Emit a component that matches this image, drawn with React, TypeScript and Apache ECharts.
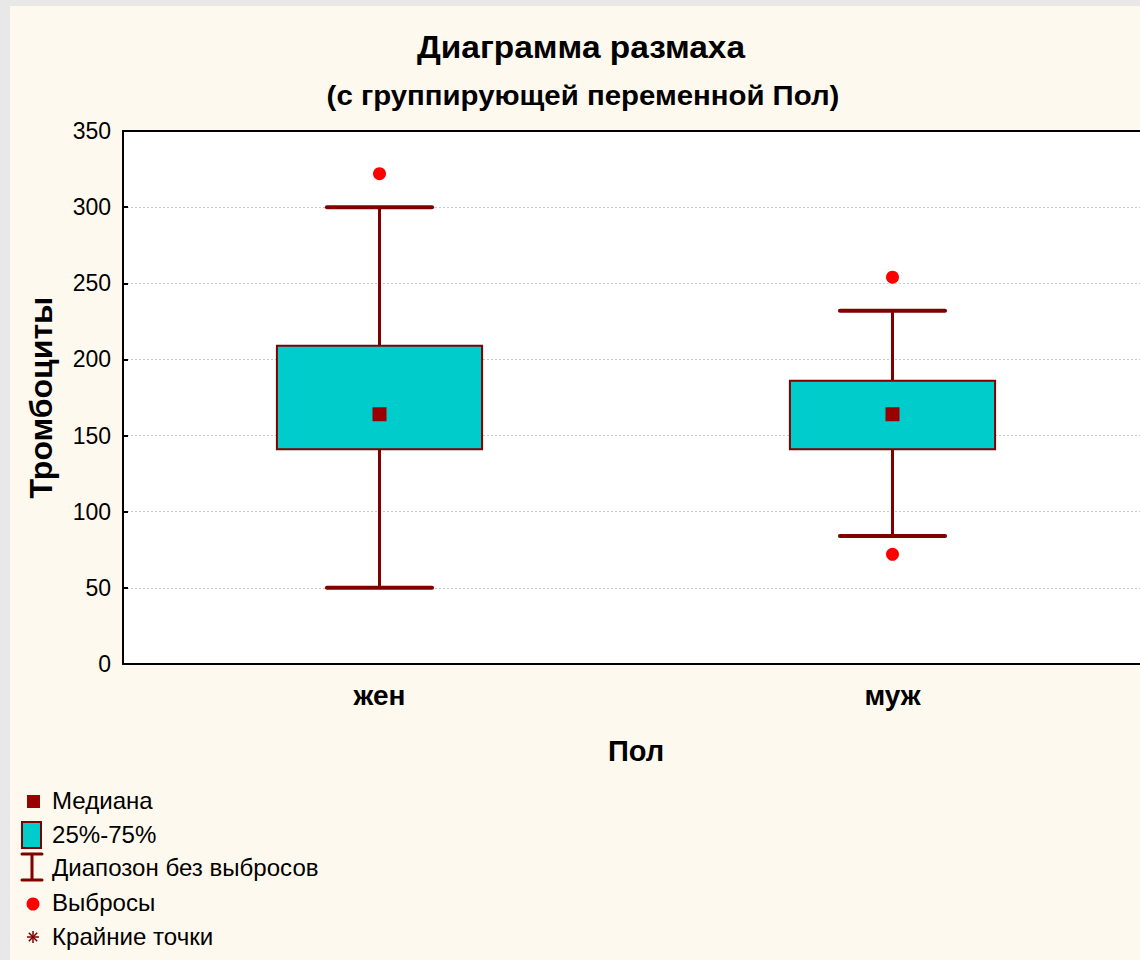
import React, { useEffect, useRef } from "react";
import * as echarts from "echarts";

// ---- data ----
const categories = ["жен", "муж"];
// [min (no outliers), Q1, median, Q3, max (no outliers)]
const boxMin = [50, 84];
const boxQ1 = [141, 141];
const boxMedian = [164, 164];
const boxQ3 = [209, 186];
const boxMax = [300, 232];
// outliers: [category index, value]
const outliers: [number, number][] = [
  [0, 322],
  [1, 254],
  [1, 72],
];
const yTicks = { min: 0, max: 350, interval: 50 };
const legendLabels = ["Медиана", "25%-75%", "Диапозон без выбросов", "Выбросы", "Крайние точки"];

const FONT = "Liberation Sans, Arial, sans-serif";
const DARK = "#800000";
const MED = "#990000";
const CYAN = "#00CCCC";
const OX = 10;
const OY = 6;

export default function App() {
  const ref = useRef<HTMLDivElement>(null);
  useEffect(() => {
    if (!ref.current) return;
    const chart = echarts.init(ref.current, undefined, { renderer: "svg" });
    const boxData = categories.map((_, i) => [i, boxMin[i], boxQ1[i], boxMedian[i], boxQ3[i], boxMax[i]]);

    const rowY = [801, 835, 868, 903, 937];
    const legendGraphics: any[] = [];
    legendGraphics.push({ type: "rect", shape: { x: 27 - OX, y: 795 - OY, width: 13, height: 13 }, style: { fill: MED } });
    legendGraphics.push({ type: "rect", shape: { x: 22 - OX, y: 822 - OY, width: 19, height: 26 }, style: { fill: CYAN, stroke: DARK, lineWidth: 2 } });
    legendGraphics.push({ type: "line", shape: { x1: 22 - OX, y1: 854 - OY, x2: 42 - OX, y2: 854 - OY }, style: { stroke: DARK, lineWidth: 3, lineCap: "round" } });
    legendGraphics.push({ type: "line", shape: { x1: 22 - OX, y1: 880 - OY, x2: 42 - OX, y2: 880 - OY }, style: { stroke: DARK, lineWidth: 3, lineCap: "round" } });
    legendGraphics.push({ type: "line", shape: { x1: 32 - OX, y1: 854 - OY, x2: 32 - OX, y2: 880 - OY }, style: { stroke: DARK, lineWidth: 3 } });
    legendGraphics.push({ type: "circle", shape: { cx: 33 - OX, cy: 904 - OY, r: 6.5 }, style: { fill: "#FF0000" } });
    const ax = 33 - OX, ay = 937 - OY, s = 6;
    [[0, -s, 0, s], [-s, 0, s, 0], [-s * 0.7, -s * 0.7, s * 0.7, s * 0.7], [-s * 0.7, s * 0.7, s * 0.7, -s * 0.7]].forEach((l) => {
      legendGraphics.push({ type: "line", shape: { x1: ax + l[0], y1: ay + l[1], x2: ax + l[2], y2: ay + l[3] }, style: { stroke: DARK, lineWidth: 1.5 } });
    });
    legendLabels.forEach((t, i) => {
      legendGraphics.push({
        type: "text",
        x: 52 - OX,
        y: rowY[i] - OY,
        scaleX: 1.047,
        style: { text: t, font: `23px ${FONT}`, fill: "#000", verticalAlign: "middle" },
      });
    });

    chart.setOption({
      animation: false,
      backgroundColor: "transparent",
      graphic: [
        {
          type: "text",
          x: 581 - OX,
          y: 47 - OY,
          scaleX: 1.045,
          style: { text: "Диаграмма размаха", font: `bold 32px ${FONT}`, fill: "#000", align: "center", verticalAlign: "middle" },
        },
        {
          type: "text",
          x: 583 - OX,
          y: 95 - OY,
          scaleX: 1.05,
          style: { text: "(с группирующей переменной Пол)", font: `bold 28px ${FONT}`, fill: "#000", align: "center", verticalAlign: "middle" },
        },
        ...legendGraphics,
      ],
      grid: {
        left: 113,
        top: 125,
        width: 1026,
        height: 533,
        show: true,
        backgroundColor: "#FFFFFF",
        borderWidth: 0,
      },
      xAxis: [
        {
          type: "category",
          data: categories,
          boundaryGap: true,
          axisLine: { lineStyle: { color: "#000", width: 2 } },
          axisTick: { inside: true, alignWithLabel: true, length: 6, lineStyle: { color: "#000", width: 2 } },
          axisLabel: { color: "#000", fontFamily: FONT, fontSize: 28, fontWeight: "bold", margin: 17 },
          name: "Пол",
          nameLocation: "middle",
          nameGap: 72,
          nameTextStyle: { color: "#000", fontFamily: FONT, fontSize: 29, fontWeight: "bold" },
          splitLine: { show: false },
        },
        {
          type: "category",
          data: categories,
          position: "top",
          axisLine: { show: true, lineStyle: { color: "#000", width: 2 } },
          axisTick: { show: false },
          axisLabel: { show: false },
          splitLine: { show: false },
        },
      ],
      yAxis: {
        type: "value",
        min: yTicks.min,
        max: yTicks.max,
        interval: yTicks.interval,
        axisLine: { show: true, lineStyle: { color: "#000", width: 2 } },
        axisTick: { show: true, inside: true, length: 5, lineStyle: { color: "#000", width: 2 } },
        axisLabel: { color: "#000", fontFamily: FONT, fontSize: 23, margin: 12 },
        splitLine: { show: true, lineStyle: { color: "#c8c8c8", width: 1, type: [2, 2] } },
        name: "Тромбоциты",
        nameLocation: "middle",
        nameGap: 66,
        nameTextStyle: { color: "#000", fontFamily: FONT, fontSize: 32, fontWeight: "bold" },
      },
      series: [
        {
          type: "custom",
          name: "box",
          data: boxData,
          encode: { x: 0, y: [1, 2, 3, 4, 5] },
          renderItem: (params: any, api: any) => {
            const c = api.value(0);
            const band = api.size([1, 0])[0];
            const pMin = api.coord([c, api.value(1)]);
            const pQ1 = api.coord([c, api.value(2)]);
            const pMed = api.coord([c, api.value(3)]);
            const pQ3 = api.coord([c, api.value(4)]);
            const pMax = api.coord([c, api.value(5)]);
            const cx = pMin[0];
            const boxW = band * 0.4;
            const capW = band * 0.205;
            const med = 14;
            return {
              type: "group",
              children: [
                { type: "line", shape: { x1: cx, y1: pMax[1], x2: cx, y2: pMin[1] }, style: { stroke: DARK, lineWidth: 3 } },
                { type: "line", shape: { x1: cx - capW / 2, y1: pMax[1], x2: cx + capW / 2, y2: pMax[1] }, style: { stroke: DARK, lineWidth: 4, lineCap: "round" } },
                { type: "line", shape: { x1: cx - capW / 2, y1: pMin[1], x2: cx + capW / 2, y2: pMin[1] }, style: { stroke: DARK, lineWidth: 4, lineCap: "round" } },
                { type: "rect", shape: { x: cx - boxW / 2, y: pQ3[1], width: boxW, height: pQ1[1] - pQ3[1] }, style: { fill: CYAN, stroke: DARK, lineWidth: 2 } },
                { type: "rect", shape: { x: cx - med / 2, y: pMed[1] - med / 2, width: med, height: med }, style: { fill: MED } },
              ],
            };
          },
          z: 2,
        },
        {
          type: "scatter",
          name: "Выбросы",
          data: outliers,
          symbol: "circle",
          symbolSize: 13,
          itemStyle: { color: "#FF0000", opacity: 1 },
          z: 3,
        },
      ],
    });
    return () => chart.dispose();
  }, []);

  return (
    <div style={{ position: "absolute", left: 0, top: 0, width: 1140, height: 960, overflow: "hidden", background: "#E8E8E8" }}>
      <div
        ref={ref}
        style={{ position: "absolute", left: OX, top: OY, width: 1160, height: 954, background: "#FEF9EE" }}
      />
    </div>
  );
}
